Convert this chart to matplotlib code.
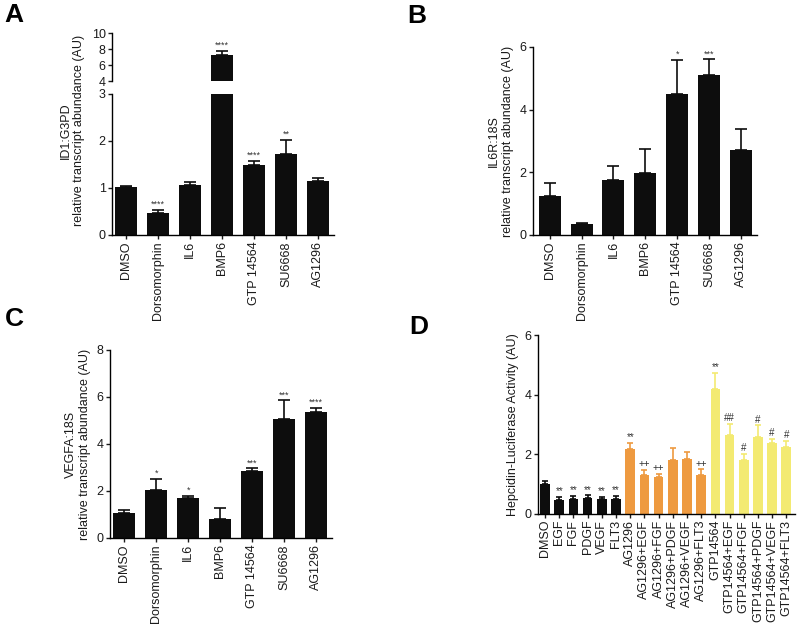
import numpy as np
import matplotlib.pyplot as plt

plt.rcParams['font.family'] = ['Liberation Sans', 'DejaVu Sans']
plt.rcParams['font.size'] = 9
plt.rcParams['axes.linewidth'] = 1.0

# shared x categories for panels A-C
abc_labels = ["DMSO", "Dorsomorphin", "IL6", "BMP6", "GTP 14564", "SU6668", "AG1296"]

# panel A: ID1:G3PD
a_means = [1.02, 0.47, 1.07, 7.25, 1.48, 1.73, 1.15]
a_err = [0.03, 0.07, 0.05, 0.55, 0.10, 0.30, 0.06]
a_stars = ["", "****", "", "****", "****", "**", ""]

# panel B: IL6R:18S
b_means = [1.24, 0.34, 1.76, 1.97, 4.49, 5.12, 2.72]
b_err = [0.43, 0.05, 0.44, 0.76, 1.10, 0.48, 0.65]
b_stars = ["", "", "", "", "*", "***", ""]

# panel C: VEGFA:18S
c_means = [1.06, 2.05, 1.69, 0.79, 2.83, 5.07, 5.37]
c_err = [0.12, 0.47, 0.11, 0.47, 0.14, 0.78, 0.17]
c_stars = ["", "*", "*", "", "***", "***", "****"]

# panel D: hepcidin luciferase
d_labels = ["DMSO", "EGF", "FGF", "PDGF", "VEGF", "FLT3",
            "AG1296", "AG1296+EGF", "AG1296+FGF", "AG1296+PDGF", "AG1296+VEGF", "AG1296+FLT3",
            "GTP14564", "GTP14564+EGF", "GTP14564+FGF", "GTP14564+PDGF", "GTP14564+VEGF", "GTP14564+FLT3"]
d_means = [0.99, 0.45, 0.48, 0.53, 0.49, 0.48,
           2.17, 1.30, 1.24, 1.79, 1.83, 1.31,
           4.20, 2.65, 1.80, 2.58, 2.38, 2.22]
d_err = [0.10, 0.11, 0.12, 0.08, 0.07, 0.10,
         0.21, 0.17, 0.10, 0.42, 0.23, 0.17,
         0.52, 0.36, 0.21, 0.38, 0.13, 0.22]
d_stars = ["", "**", "**", "**", "**", "**",
           "**", "++", "++", "", "", "++",
           "**", "##", "#", "#", "#", "#"]
d_groups = ["base"] * 6 + ["AG1296"] * 6 + ["GTP14564"] * 6
group_colors = {"base": "#0d0d0d", "AG1296": "#ee9a40", "GTP14564": "#f3ea72"}

TXT = "#1a1a1a"


def style_axis(ax):
    ax.spines["top"].set_visible(False)
    ax.spines["right"].set_visible(False)
    ax.tick_params(direction="out", length=3, width=1.0, colors=TXT, labelsize=9, pad=1.5)


def draw_bars(ax, means, errs, colors, stars, width, capsize, star_size):
    x = np.arange(len(means))
    ax.bar(x, means, width=width, color=colors, edgecolor="none", zorder=2)
    for xi, m, e, c, s in zip(x, means, errs, colors, stars):
        ax.errorbar(xi, m, yerr=[[0], [e]], fmt="none", ecolor=c, elinewidth=1.2,
                    capsize=capsize, capthick=1.2, zorder=3)
        if s:
            ax.annotate(s, (xi, m + e), xytext=(0, 0.5), textcoords="offset points",
                        ha="center", va="bottom", fontsize=star_size, color="#333333",
                        annotation_clip=False)
    return x


fig = plt.figure(figsize=(8, 6.29), dpi=100)

# ---- A (broken axis) ----
ax_hi = fig.add_axes([0.140, 0.8712, 0.2775, 0.0763])
ax_lo = fig.add_axes([0.140, 0.6264, 0.2775, 0.2242])
# upper part only shows the tall BMP6 bar, lower part the rest
draw_bars(ax_hi, a_means, a_err, ["#0d0d0d"] * 7,
          [s if m > 4 else "" for s, m in zip(a_stars, a_means)], 0.69, 4, 6.5)
draw_bars(ax_lo, a_means, a_err, ["#0d0d0d"] * 7,
          [s if m < 3 else "" for s, m in zip(a_stars, a_means)], 0.69, 4, 6.5)
for ax in (ax_hi, ax_lo):
    style_axis(ax)
    ax.set_xlim(-0.45, 6.5)
ax_hi.set_ylim(4, 10)
ax_hi.set_yticks([4, 6, 8, 10])
ax_hi.spines["bottom"].set_visible(False)
ax_hi.set_xticks([])
ax_lo.set_ylim(0, 3)
ax_lo.set_yticks([0, 1, 2, 3])
ax_lo.set_xticks(np.arange(len(abc_labels)))
ax_lo.set_xticklabels(abc_labels, rotation=90)
ax_lo.set_ylabel("ID1:G3PD\nrelative transcript abundance (AU)", color=TXT, fontsize=9)
ax_lo.yaxis.set_label_coords(-0.12, 0.74)

# ---- B ----
ax_b = fig.add_axes([0.666, 0.6264, 0.28, 0.299])
style_axis(ax_b)
draw_bars(ax_b, b_means, b_err, ["#0d0d0d"] * 7, b_stars, 0.69, 4, 6.5)
ax_b.set_xlim(-0.53, 6.5)
ax_b.set_ylim(0, 6)
ax_b.set_yticks([0, 2, 4, 6])
ax_b.set_xticks(np.arange(len(abc_labels)))
ax_b.set_xticklabels(abc_labels, rotation=90)
ax_b.set_ylabel("IL6R:18S\nrelative transcript abundance (AU)", color=TXT, fontsize=9)

# ---- C ----
ax_c = fig.add_axes([0.1375, 0.1447, 0.2775, 0.299])
style_axis(ax_c)
draw_bars(ax_c, c_means, c_err, ["#0d0d0d"] * 7, c_stars, 0.69, 4, 6.5)
ax_c.set_xlim(-0.45, 6.5)
ax_c.set_ylim(0, 8)
ax_c.set_yticks([0, 2, 4, 6, 8])
ax_c.set_xticks(np.arange(len(abc_labels)))
ax_c.set_xticklabels(abc_labels, rotation=90)
ax_c.set_ylabel("VEGFA:18S\nrelative transcript abundance (AU)", color=TXT, fontsize=9)

# ---- D ----
ax_d = fig.add_axes([0.6725, 0.1836, 0.321, 0.2838])
style_axis(ax_d)
draw_bars(ax_d, d_means, d_err, [group_colors[g] for g in d_groups], d_stars, 0.68, 2.5, 7)
ax_d.set_xlim(-0.5, 17.6)
ax_d.set_ylim(0, 6)
ax_d.set_yticks([0, 2, 4, 6])
ax_d.set_xticks(np.arange(len(d_labels)))
ax_d.set_xticklabels(d_labels, rotation=90)
ax_d.set_ylabel("Hepcidin-Luciferase Activity (AU)", color=TXT, fontsize=9)

# panel letters
for letter, (lx, ly) in zip("ABCD", [(14, 15), (417, 16), (14, 319), (419, 327)]):
    fig.text(lx / 800, 1 - ly / 629, letter, fontsize=19, fontweight="bold",
             ha="center", va="center", color="black")

fig.savefig("out.png", dpi=100)
